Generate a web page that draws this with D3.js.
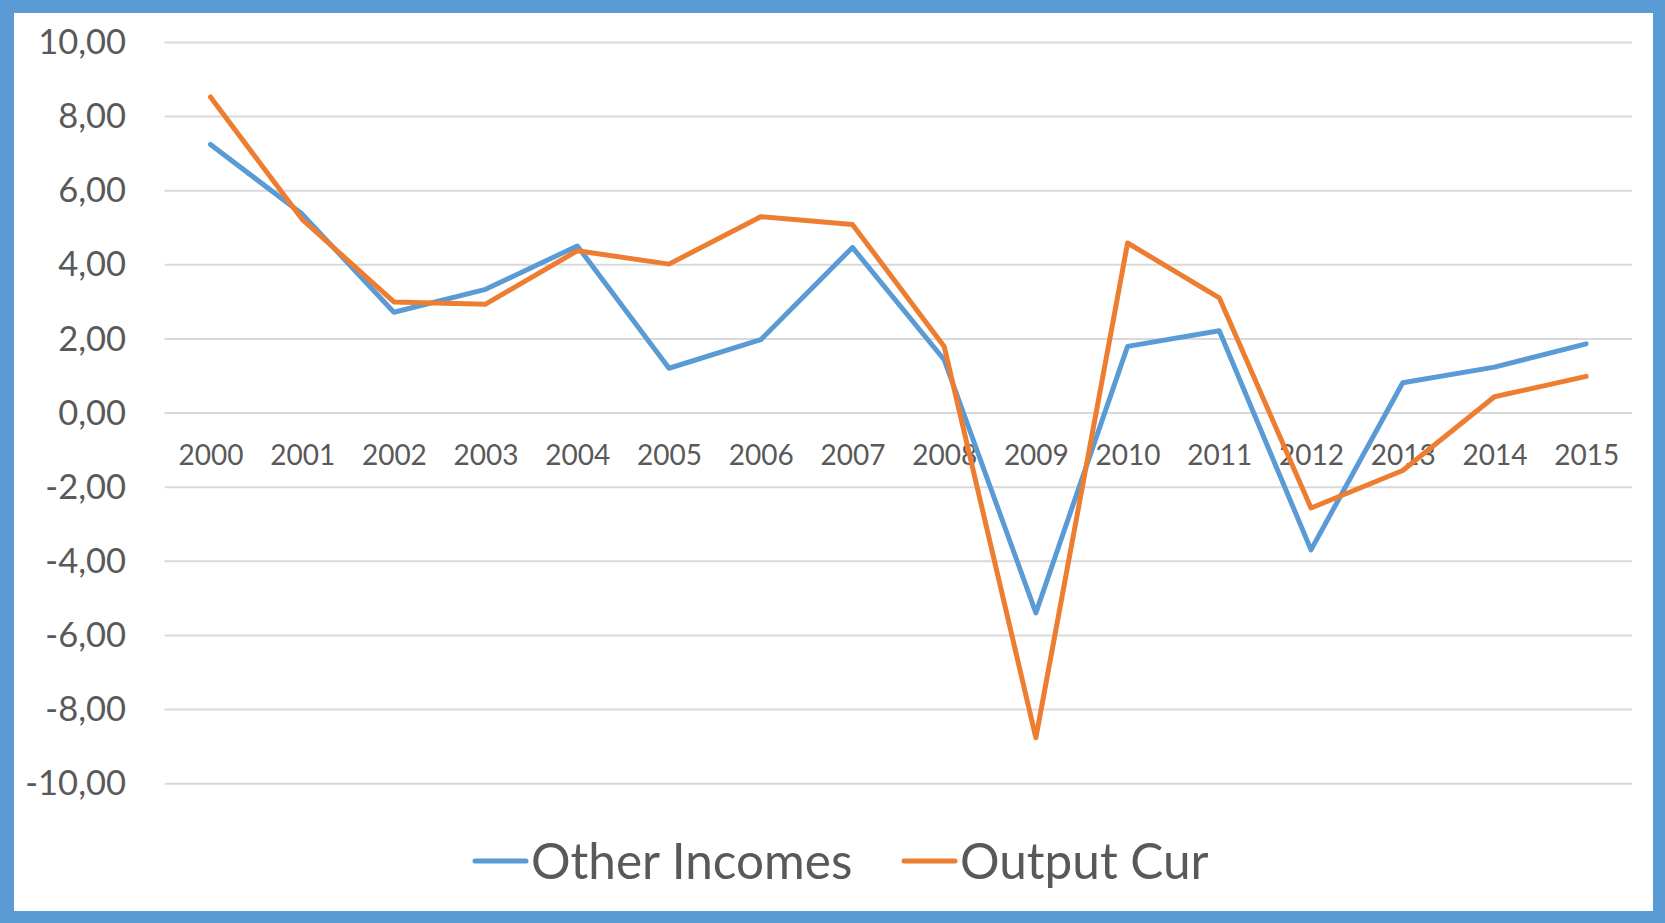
<!DOCTYPE html>
<meta charset="utf-8">
<head>
  <title>Other Incomes vs Output Cur</title>
</head>

<style>
  body {
    margin: 0;
    font-family: Lato, "Open Sans", sans-serif;
    background: #fff;
  }
  .tick text { fill: #595959; }
</style>

<body>
<svg id="chart" width="1665" height="923"></svg>

<script src="https://cdnjs.cloudflare.com/ajax/libs/d3/7.8.5/d3.min.js"></script>
<script>
  var years = ["2000", "2001", "2002", "2003", "2004", "2005", "2006", "2007",
               "2008", "2009", "2010", "2011", "2012", "2013", "2014", "2015"];

  var otherIncomes = [7.25, 5.37, 2.72, 3.34, 4.51, 1.21, 1.98, 4.47,
                      1.44, -5.39, 1.80, 2.22, -3.69, 0.82, 1.24, 1.87];

  var outputCur = [8.53, 5.23, 3.0, 2.94, 4.38, 4.02, 5.30, 5.09,
                   1.80, -8.76, 4.59, 3.11, -2.56, -1.55, 0.44, 0.99];

  var yTicks = [-10, -8, -6, -4, -2, 0, 2, 4, 6, 8, 10];

  var seriesNames = ["Other Incomes", "Output Cur"];
  var seriesColors = ["#5B9BD5", "#ED7D31"];

  var svg = d3.select('#chart');

  // blue frame
  svg.append('rect')
    .attr('width', 1665)
    .attr('height', 923)
    .attr('fill', '#5B9BD5');
  svg.append('rect')
    .attr('x', 14)
    .attr('y', 13)
    .attr('width', 1665 - 14 - 12)
    .attr('height', 923 - 13 - 12)
    .attr('fill', '#fff');

  var x = d3.scalePoint()
    .domain(years)
    .range([164.6, 1632])
    .padding(0.5);

  var y = d3.scaleLinear()
    .domain([-10, 10])
    .range([783.7, 42.5]);

  // gridlines
  svg.append('g')
    .selectAll('line')
    .data(yTicks)
    .enter()
    .append('line')
    .attr('x1', 164.6)
    .attr('x2', 1632)
    .attr('y1', function(d) { return y(d); })
    .attr('y2', function(d) { return y(d); })
    .attr('stroke', '#D9D9D9')
    .attr('stroke-width', 2);

  // y axis labels, comma decimals and plain hyphen minus
  var yAxis = d3.axisLeft(y)
    .tickValues(yTicks)
    .tickSize(0)
    .tickPadding(0)
    .tickFormat(function(d) {
      return d3.format('.2f')(d).replace('.', ',').replace('\u2212', '-');
    });

  svg.append('g')
    .attr('transform', 'translate(126,0)')
    .call(yAxis)
    .call(function(g) { g.select('.domain').remove(); })
    .selectAll('text')
    .attr('font-family', 'Lato, sans-serif')
    .attr('font-size', 34.5);

  // x axis labels at the zero line
  var xAxis = d3.axisBottom(x)
    .tickSize(0)
    .tickPadding(32);

  svg.append('g')
    .attr('transform', 'translate(0,' + y(0) + ')')
    .call(xAxis)
    .call(function(g) { g.select('.domain').remove(); })
    .selectAll('text')
    .attr('font-family', 'Lato, sans-serif')
    .attr('font-size', 28);

  var line = d3.line()
    .x(function(d, i) { return x(years[i]); })
    .y(function(d) { return y(d); });

  [otherIncomes, outputCur].forEach(function(values, i) {
    svg.append('path')
      .datum(values)
      .attr('d', line)
      .attr('fill', 'none')
      .attr('stroke', seriesColors[i])
      .attr('stroke-width', 5)
      .attr('stroke-linejoin', 'round')
      .attr('stroke-linecap', 'round');
  });

  // legend
  var legendX = [475, 904];
  var legend = svg.append('g');
  seriesNames.forEach(function(name, i) {
    legend.append('line')
      .attr('x1', legendX[i])
      .attr('x2', legendX[i] + 51)
      .attr('y1', 861)
      .attr('y2', 861)
      .attr('stroke', seriesColors[i])
      .attr('stroke-width', 5)
      .attr('stroke-linecap', 'round');
    legend.append('text')
      .attr('x', legendX[i] + 56)
      .attr('y', 879)
      .attr('fill', '#595959')
      .attr('font-family', 'Lato, sans-serif')
      .attr('font-size', 49.5)
      .text(name);
  });
</script>
</body>
</html>
